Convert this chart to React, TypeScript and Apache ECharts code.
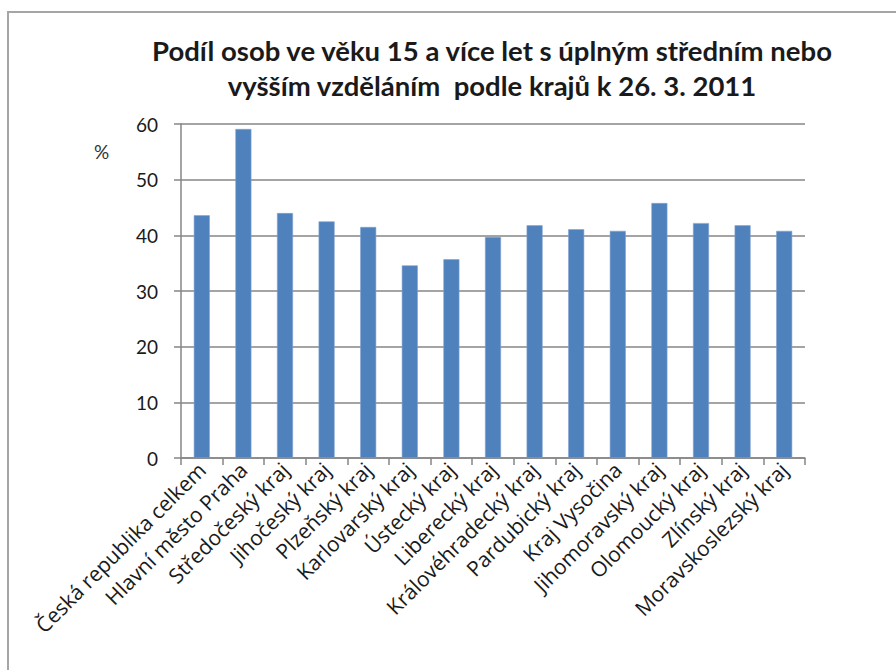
import React, { useEffect, useRef } from "react";
import * as echarts from "echarts";

const categories = [
  "Česká republika celkem",
  "Hlavní město Praha",
  "Středočeský kraj",
  "Jihočeský kraj",
  "Plzeňský kraj",
  "Karlovarský kraj",
  "Ústecký kraj",
  "Liberecký kraj",
  "Královéhradecký kraj",
  "Pardubický kraj",
  "Kraj Vysočina",
  "Jihomoravský kraj",
  "Olomoucký kraj",
  "Zlínský kraj",
  "Moravskoslezský kraj",
];
const values = [43.6, 59.1, 44.0, 42.5, 41.5, 34.6, 35.7, 39.7, 41.8, 41.1, 40.8, 45.8, 42.2, 41.8, 40.8];
const titleText = "Podíl osob ve věku 15 a více let s úplným středním nebo\nvyšším vzděláním  podle krajů k 26. 3. 2011";
const yUnit = "%";

export default function App() {
  const ref = useRef<HTMLDivElement>(null);
  useEffect(() => {
    if (!ref.current) return;
    const chart = echarts.init(ref.current, null, { renderer: "svg" });
    chart.setOption({
      animation: false,
      backgroundColor: "#ffffff",
      title: {
        text: titleText,
        left: 487,
        top: 28,
        textAlign: "center",
        textStyle: {
          fontFamily: "Lato",
          fontWeight: "bold",
          fontSize: 27.5,
          lineHeight: 35,
          color: "#1a1a1a",
        },
      },
      graphic: [
        {
          type: "rect",
          shape: { x: 8, y: 12, width: 1000, height: 800 },
          style: { fill: "none", stroke: "#a6a6a6", lineWidth: 2 },
          silent: true,
        },
        {
          type: "text",
          left: 94,
          top: 142,
          style: { text: yUnit, fontFamily: "Lato", fontSize: 19, fill: "#333" },
        },
      ],
      grid: { left: 181, right: 91, top: 124, bottom: 212, containLabel: false },
      xAxis: {
        type: "category",
        data: categories,
        boundaryGap: true,
        axisLine: { show: true, lineStyle: { color: "#868686", width: 1.5 } },
        axisTick: { show: true, alignWithLabel: false, length: 7, lineStyle: { color: "#868686", width: 1.5 } },
        axisLabel: {
          rotate: 45,
          interval: 0,
          margin: 8,
          fontFamily: "Open Sans",
          fontSize: 21,
          color: "#1a1a1a",
        },
      },
      yAxis: {
        type: "value",
        min: 0,
        max: 60,
        interval: 10,
        axisLine: { show: true, lineStyle: { color: "#868686", width: 1.5 } },
        axisTick: { show: true, length: 7, lineStyle: { color: "#868686", width: 1.5 } },
        axisLabel: { margin: 23, fontFamily: "Lato", fontSize: 19, color: "#1a1a1a" },
        splitLine: { show: true, lineStyle: { color: "#868686", width: 1.5 } },
      },
      series: [
        {
          type: "bar",
          data: values,
          barWidth: 16,
          itemStyle: { color: "#4f81bd", borderColor: "#7ea3d1", borderWidth: 0.6 },
        },
      ],
    });
    return () => chart.dispose();
  }, []);
  return (
    <div
      ref={ref}
      style={{ position: "fixed", left: 0, top: 0, width: 896, height: 670 }}
    />
  );
}
